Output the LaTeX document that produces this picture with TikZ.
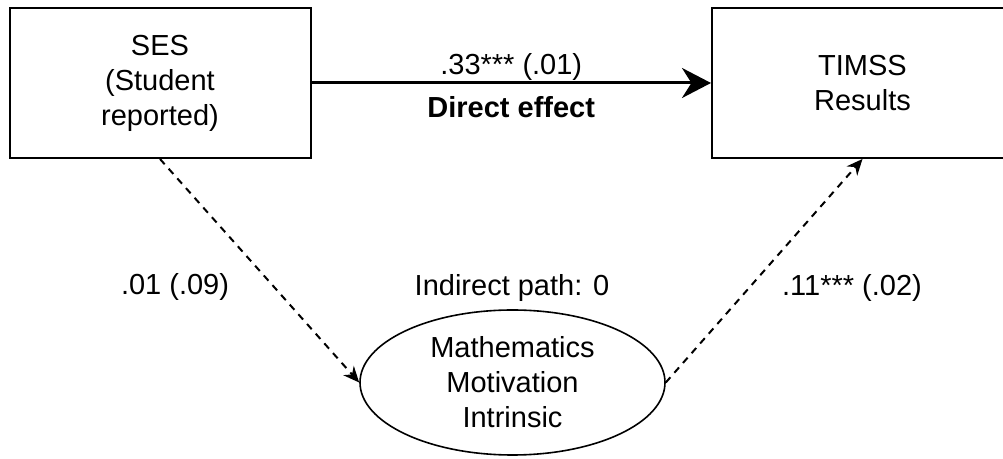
\documentclass[tikz,border=0pt]{standalone}
\usepackage{fontspec}
\setmainfont{Liberation Sans}
\usepackage{tikz}
\usetikzlibrary{arrows.meta,shapes.geometric}

\begin{document}
\begin{tikzpicture}[x=0.5pt, y=-0.5pt,
    font=\fontsize{14.5}{17.5}\selectfont,
    varbox/.style={draw, line width=1pt, minimum width=150.5pt, minimum height=75pt, align=center},
    latentvar/.style={draw, ellipse, line width=0.8pt, minimum width=152.5pt, minimum height=72.5pt, inner sep=0pt, align=center},
    dashpath/.style={line width=1pt, dash pattern=on 3.5pt off 3pt, -{Stealth[length=8pt,width=7pt]}},
    lbl/.style={anchor=base, inner sep=0pt}]
    \useasboundingbox (0,0) rectangle (1003,459);
    \node[varbox] (ses) at (160,83) {SES\\(Student\\reported)};
    \node[varbox] (timss) at (862.5,83) {TIMSS\\Results};
    \node[latentvar] (motiv) at (512.5,382.5) {Mathematics\\Motivation\\Intrinsic};
    % direct path
    \draw[line width=1.5pt, -{Stealth[length=14.5pt,width=15pt]}] (ses) -- (timss)
        node[lbl, midway, yshift=4pt] {.33*** (.01)}
        node[lbl, midway, yshift=-17.5pt] {\textbf{Direct effect}};
    % indirect path
    \draw[dashpath] (ses.south) -- (motiv.west);
    \draw[dashpath] (motiv.east) -- (timss.south);
    \node[lbl] (a) at (175,295) {.01 (.09)};
    \node[lbl] (b) at (852,296) {.11*** (.02)};
    \node[lbl] (ind) at (512,296) {Indirect path: 0};
\end{tikzpicture}
\end{document}
